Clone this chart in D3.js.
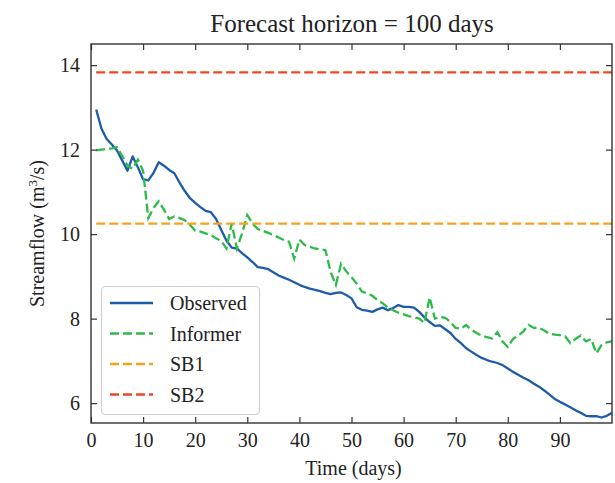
<!DOCTYPE html>
<html>
<head>
<meta charset="utf-8">
<script src="https://cdn.jsdelivr.net/npm/d3@7"></script>
<style>
  html, body { margin: 0; padding: 0; background: #fff; }
  svg { display: block; }
  text { font-family: "Liberation Serif", "Times New Roman", serif; fill: #222; }
</style>
</head>
<body>
<svg id="chart" width="615" height="483"></svg>
<script>
const days = d3.range(1, 101);

const observed = [
  12.95, 12.50, 12.25, 12.12, 11.98, 11.74, 11.50, 11.84, 11.58, 11.30,
  11.27, 11.45, 11.70, 11.62, 11.52, 11.44, 11.22, 11.02, 10.85, 10.74,
  10.64, 10.55, 10.52, 10.36, 10.10, 9.85, 9.68, 9.66, 9.55, 9.45,
  9.34, 9.22, 9.20, 9.17, 9.10, 9.02, 8.97, 8.92, 8.86, 8.80,
  8.75, 8.71, 8.68, 8.65, 8.61, 8.58, 8.61, 8.62, 8.56, 8.48,
  8.27, 8.21, 8.19, 8.16, 8.22, 8.26, 8.20, 8.25, 8.32, 8.28,
  8.28, 8.26, 8.16, 8.03, 7.92, 7.83, 7.84, 7.75, 7.66, 7.52,
  7.42, 7.30, 7.22, 7.14, 7.07, 7.02, 6.98, 6.95, 6.90, 6.82,
  6.74, 6.67, 6.60, 6.54, 6.46, 6.39, 6.30, 6.20, 6.10, 6.03,
  5.97, 5.90, 5.83, 5.77, 5.70, 5.69, 5.69, 5.66, 5.70, 5.77
];

const informer = [
  11.98, 12.00, 12.02, 12.03, 12.06, 11.85, 11.62, 11.55, 11.76, 11.50,
  10.38, 10.62, 10.78, 10.58, 10.36, 10.42, 10.38, 10.33, 10.22, 10.08,
  10.06, 10.02, 9.98, 9.90, 9.84, 9.66, 10.25, 9.66, 10.02, 10.45,
  10.25, 10.12, 10.08, 10.03, 9.98, 9.92, 9.86, 9.82, 9.42, 9.87,
  9.74, 9.70, 9.66, 9.64, 9.62, 9.10, 8.80, 9.30, 9.12, 8.98,
  8.83, 8.64, 8.60, 8.54, 8.44, 8.36, 8.26, 8.20, 8.14, 8.10,
  8.06, 8.03, 8.00, 7.90, 8.50, 8.00, 8.04, 8.02, 7.92, 7.78,
  7.76, 7.85, 7.74, 7.66, 7.60, 7.56, 7.53, 7.68, 7.46, 7.33,
  7.52, 7.60, 7.70, 7.85, 7.78, 7.78, 7.72, 7.64, 7.62, 7.61,
  7.58, 7.42, 7.52, 7.60, 7.46, 7.52, 7.18, 7.38, 7.44, 7.46
];

const sb1Value = 10.25;
const sb2Value = 13.83;

const xTicks = [0, 10, 20, 30, 40, 50, 60, 70, 80, 90];
const yTicks = [6, 8, 10, 12, 14];

const seriesNames = ["Observed", "Informer", "SB1", "SB2"];
const seriesColors = ["#1d5ca8", "#2cbb48", "#f5a31b", "#ea4a23"];
const seriesDashed = [false, true, true, true];

const titleText = "Forecast horizon = 100 days";
const xLabel = "Time (days)";

const svg = d3.select("#chart");
const m = { left: 91, right: 612, top: 44, bottom: 423 };

const x = d3.scaleLinear().domain([0, 100]).range([m.left, m.right]);
const y = d3.scaleLinear().domain([5.53, 14.5]).range([m.bottom, m.top]);

const dash = "9,4";
const lw = 2.3;

const line = d3.line().x((d, i) => x(days[i])).y(d => y(d));

svg.append("clipPath").attr("id", "clip")
  .append("rect").attr("x", m.left).attr("y", m.top)
  .attr("width", m.right - m.left).attr("height", m.bottom - m.top);

const g = svg.append("g").attr("clip-path", "url(#clip)");

g.append("path").datum(observed).attr("d", line)
  .attr("fill", "none").attr("stroke", seriesColors[0]).attr("stroke-width", lw)
  .attr("stroke-linejoin", "round");
g.append("path").datum(informer).attr("d", line)
  .attr("fill", "none").attr("stroke", seriesColors[1]).attr("stroke-width", lw)
  .attr("stroke-dasharray", dash);
[sb1Value, sb2Value].forEach((v, i) => {
  g.append("line")
    .attr("x1", x(days[0])).attr("x2", x(days[days.length - 1]))
    .attr("y1", y(v)).attr("y2", y(v))
    .attr("stroke", seriesColors[2 + i]).attr("stroke-width", lw)
    .attr("stroke-dasharray", dash);
});

const tickLen = 6;
const axisColor = "#333";
const fs = 20;
const xb = svg.append("g").attr("transform", `translate(0,${m.bottom})`)
  .call(d3.axisBottom(x).tickValues(xTicks).tickSizeInner(-tickLen).tickSizeOuter(0).tickPadding(10));
const xt = svg.append("g").attr("transform", `translate(0,${m.top})`)
  .call(d3.axisTop(x).tickValues(xTicks).tickSizeInner(-tickLen).tickSizeOuter(0).tickFormat(""));
const yl = svg.append("g").attr("transform", `translate(${m.left},0)`)
  .call(d3.axisLeft(y).tickValues(yTicks).tickSizeInner(-tickLen).tickSizeOuter(0).tickPadding(11));
const yr = svg.append("g").attr("transform", `translate(${m.right},0)`)
  .call(d3.axisRight(y).tickValues(yTicks).tickSizeInner(-tickLen).tickSizeOuter(0).tickFormat(""));

[xb, xt, yl, yr].forEach(a => {
  a.select(".domain").remove();
  a.selectAll(".tick line").attr("stroke", axisColor).attr("stroke-width", 1.2);
  a.selectAll("text").attr("font-family", "Liberation Serif").attr("font-size", fs).attr("fill", "#222");
});

svg.append("rect").attr("x", m.left).attr("y", m.top)
  .attr("width", m.right - m.left).attr("height", m.bottom - m.top)
  .attr("fill", "none").attr("stroke", axisColor).attr("stroke-width", 1.4);

svg.append("text").attr("x", (m.left + m.right) / 2 + 0.5).attr("y", 32)
  .attr("text-anchor", "middle").attr("font-size", 25).text(titleText);
svg.append("text").attr("x", (m.left + m.right) / 2 + 2).attr("y", 475)
  .attr("text-anchor", "middle").attr("font-size", fs).text(xLabel);

const yLab = svg.append("text")
  .attr("transform", `translate(44,${(m.top + m.bottom) / 2}) rotate(-90)`)
  .attr("text-anchor", "middle").attr("font-size", fs);
yLab.append("tspan").text("Streamflow (m");
yLab.append("tspan").attr("baseline-shift", "super").attr("font-size", 13).text("3");
yLab.append("tspan").text("/s)");

const lg = svg.append("g");
lg.append("rect").attr("x", 101.5).attr("y", 286.5).attr("width", 158).attr("height", 128)
  .attr("rx", 4).attr("fill", "#fff").attr("fill-opacity", 0.85)
  .attr("stroke", "#d0d0d0").attr("stroke-width", 1.2);
seriesNames.forEach((name, i) => {
  const cy = 303 + i * 30.5;
  lg.append("line").attr("x1", 110).attr("x2", 153).attr("y1", cy).attr("y2", cy)
    .attr("stroke", seriesColors[i]).attr("stroke-width", lw)
    .attr("stroke-dasharray", seriesDashed[i] ? dash : null);
  lg.append("text").attr("x", 170).attr("y", cy + 7).attr("font-size", fs).text(name);
});
</script>
</body>
</html>
